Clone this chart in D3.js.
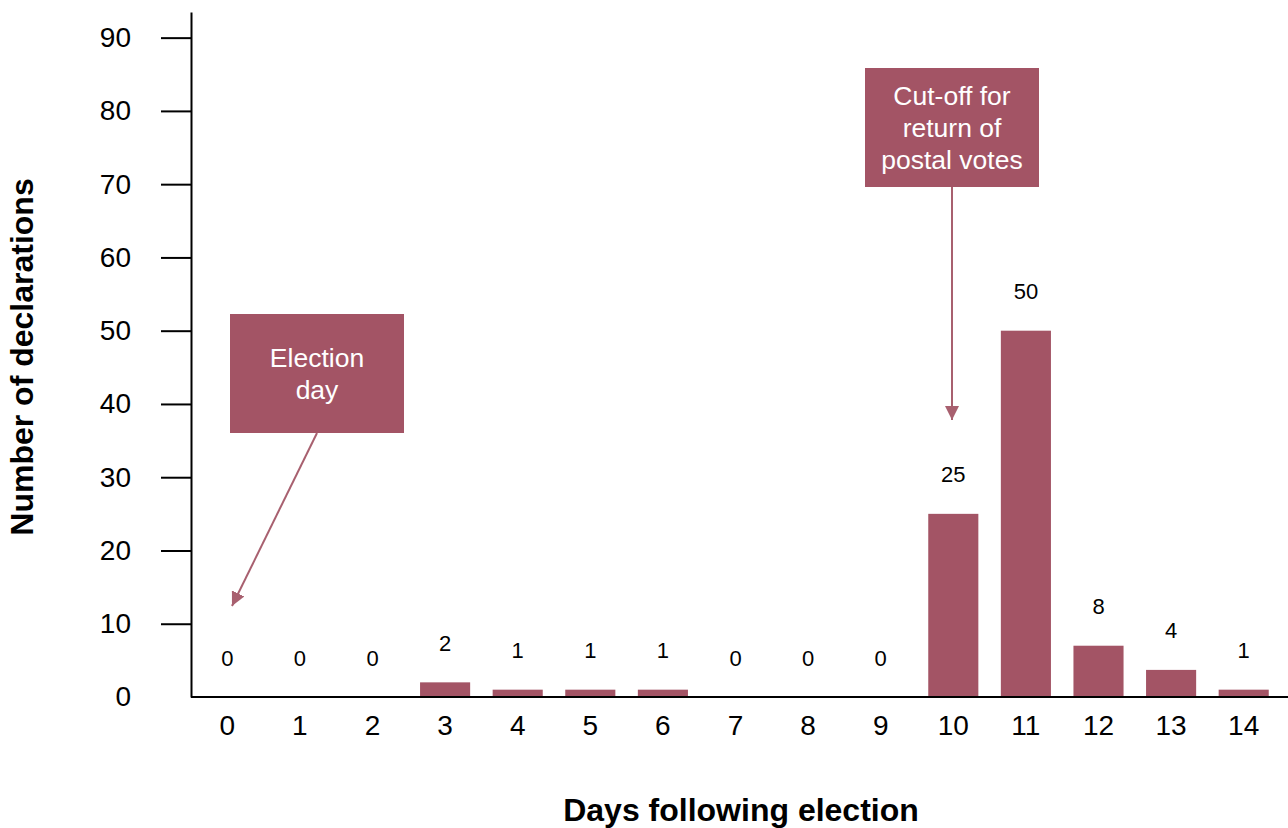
<!DOCTYPE html>
<html>
<head>
<meta charset="utf-8">
<script src="https://cdn.jsdelivr.net/npm/d3@7"></script>
<style>
  body { margin: 0; background: #fff; }
  text { font-family: "Liberation Sans", Arial, sans-serif; }
</style>
</head>
<body>
<div id="chart"></div>
<script>
// data
const days = [0, 1, 2, 3, 4, 5, 6, 7, 8, 9, 10, 11, 12, 13, 14];
const declarations = [0, 0, 0, 2, 1, 1, 1, 0, 0, 0, 25, 50, 7, 3.7, 1];
const valueLabels = ["0", "0", "0", "2", "1", "1", "1", "0", "0", "0", "25", "50", "8", "4", "1"];
const yTicks = [0, 10, 20, 30, 40, 50, 60, 70, 80, 90];

const width = 1288, height = 828;
const barColor = "#a35465";

const svg = d3.select("#chart")
  .append("svg")
  .attr("width", width)
  .attr("height", height);

const x = d3.scaleBand()
  .domain(days)
  .range([191, 1280])
  .paddingInner(0.31)
  .paddingOuter(0.155);

const y = d3.scaleLinear()
  .domain([0, 93.5])
  .range([697, 12]);

// y axis
const yAxis = d3.axisLeft(y)
  .tickValues(yTicks)
  .tickSize(30)
  .tickPadding(30)
  .tickSizeOuter(0);

const gy = svg.append("g")
  .attr("transform", "translate(191,0)")
  .call(yAxis);
gy.selectAll("text").style("font-size", "28px").attr("fill", "#000");
gy.selectAll(".tick line").attr("stroke", "#000").attr("stroke-width", 2)
  .filter(d => d === 0).remove();
gy.select(".domain").attr("stroke", "#000").attr("stroke-width", 2);

// bars
svg.append("g")
  .selectAll("rect")
  .data(days)
  .enter()
  .append("rect")
  .attr("x", d => x(d))
  .attr("width", x.bandwidth())
  .attr("y", (d, i) => y(declarations[i]))
  .attr("height", (d, i) => y(0) - y(declarations[i]))
  .attr("fill", barColor);

// value labels
svg.append("g")
  .selectAll("text")
  .data(days)
  .enter()
  .append("text")
  .attr("x", d => x(d) + x.bandwidth() / 2)
  .attr("y", (d, i) => y(declarations[i]) - 39)
  .attr("text-anchor", "middle")
  .attr("dominant-baseline", "central")
  .style("font-size", "22px")
  .text((d, i) => valueLabels[i]);

// x axis
const xAxis = d3.axisBottom(x)
  .tickSize(0)
  .tickPadding(18);

const gx = svg.append("g")
  .attr("transform", "translate(0,697)")
  .call(xAxis);
gx.select(".domain").remove();
gx.selectAll("text").style("font-size", "28px").attr("fill", "#000");

svg.append("line")
  .attr("x1", 191).attr("x2", width)
  .attr("y1", 697).attr("y2", 697)
  .attr("stroke", "#000")
  .attr("stroke-width", 2);

// axis titles
svg.append("text")
  .attr("x", 741)
  .attr("y", 810)
  .attr("text-anchor", "middle")
  .attr("dominant-baseline", "central")
  .style("font-size", "32px")
  .style("font-weight", "bold")
  .text("Days following election");

svg.append("text")
  .attr("transform", "translate(22,357) rotate(-90)")
  .attr("text-anchor", "middle")
  .attr("dominant-baseline", "central")
  .style("font-size", "32px")
  .style("font-weight", "bold")
  .text("Number of declarations");

// annotations
svg.append("defs").append("marker")
  .attr("id", "arrow")
  .attr("viewBox", "0 0 10 10")
  .attr("refX", 10).attr("refY", 5)
  .attr("markerWidth", 7).attr("markerHeight", 7)
  .attr("markerUnits", "strokeWidth")
  .attr("orient", "auto")
  .append("path")
  .attr("d", "M0,0 L10,5 L0,10 z")
  .attr("fill", "#a8606f");

const notes = [
  { box: [230, 314, 174, 119], lines: ["Election", "day"], from: [317, 433], to: [232, 606] },
  { box: [865, 68, 174, 119], lines: ["Cut-off for", "return of", "postal votes"], from: [952, 187], to: [952, 420] }
];

notes.forEach(n => {
  const [bx, by, bw, bh] = n.box;
  svg.append("rect")
    .attr("x", bx).attr("y", by)
    .attr("width", bw).attr("height", bh)
    .attr("fill", barColor);
  const cy = by + bh / 2 - (n.lines.length - 1) * 16;
  n.lines.forEach((t, i) => {
    svg.append("text")
      .attr("x", bx + bw / 2)
      .attr("y", cy + i * 32)
      .attr("text-anchor", "middle")
      .attr("dominant-baseline", "central")
      .attr("fill", "#fff")
      .style("font-size", "26.5px")
      .text(t);
  });
  svg.append("line")
    .attr("x1", n.from[0]).attr("y1", n.from[1])
    .attr("x2", n.to[0]).attr("y2", n.to[1])
    .attr("stroke", "#a8606f")
    .attr("stroke-width", 2)
    .attr("marker-end", "url(#arrow)");
});
</script>
</body>
</html>
